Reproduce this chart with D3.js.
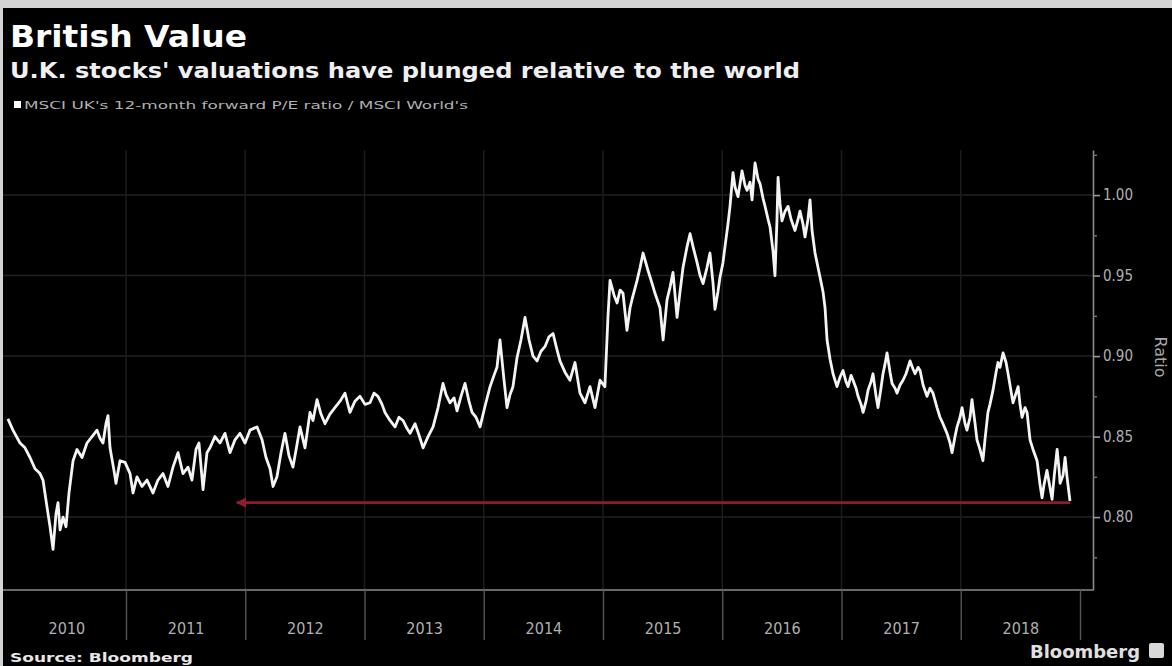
<!DOCTYPE html>
<html>
<head>
<meta charset="utf-8">
<script src="https://cdn.jsdelivr.net/npm/d3@7"></script>
<style>
  html, body { margin: 0; padding: 0; background: #000; }
  svg { display: block; }
</style>
</head>
<body>
<svg id="chart" width="1172" height="666"></svg>
<script>
// Time in decimal years, MSCI UK 12m forward P/E divided by MSCI World's
const years = [
  2010.010, 2010.052, 2010.111, 2010.153, 2010.195, 2010.237, 2010.279, 2010.304, 2010.338, 2010.363,
  2010.388, 2010.413, 2010.430, 2010.447, 2010.472, 2010.497, 2010.522, 2010.556, 2010.589, 2010.631,
  2010.673, 2010.715, 2010.757, 2010.782, 2010.807, 2010.832, 2010.849, 2010.866, 2010.899, 2010.916,
  2010.950, 2010.992, 2011.034, 2011.059, 2011.092, 2011.134, 2011.176, 2011.226, 2011.268, 2011.310,
  2011.352, 2011.394, 2011.436, 2011.478, 2011.520, 2011.553, 2011.587, 2011.612, 2011.646, 2011.679,
  2011.704, 2011.746, 2011.788, 2011.830, 2011.872, 2011.914, 2011.956, 2011.998, 2012.040, 2012.099,
  2012.141, 2012.174, 2012.208, 2012.233, 2012.266, 2012.300, 2012.333, 2012.367, 2012.400, 2012.434,
  2012.459, 2012.501, 2012.543, 2012.568, 2012.602, 2012.635, 2012.669, 2012.710, 2012.752, 2012.795,
  2012.836, 2012.878, 2012.920, 2012.962, 2013.004, 2013.046, 2013.080, 2013.113, 2013.147, 2013.172,
  2013.214, 2013.256, 2013.289, 2013.323, 2013.357, 2013.382, 2013.424, 2013.457, 2013.491, 2013.533,
  2013.575, 2013.617, 2013.658, 2013.684, 2013.717, 2013.751, 2013.776, 2013.809, 2013.843, 2013.876,
  2013.902, 2013.935, 2013.969, 2014.011, 2014.053, 2014.086, 2014.111, 2014.136, 2014.170, 2014.195,
  2014.220, 2014.245, 2014.279, 2014.312, 2014.346, 2014.380, 2014.413, 2014.447, 2014.480, 2014.514,
  2014.547, 2014.581, 2014.614, 2014.639, 2014.681, 2014.723, 2014.765, 2014.807, 2014.849, 2014.891,
  2014.933, 2014.975, 2015.016, 2015.042, 2015.059, 2015.092, 2015.118, 2015.143, 2015.168, 2015.201,
  2015.227, 2015.243, 2015.286, 2015.311, 2015.336, 2015.378, 2015.412, 2015.436, 2015.478, 2015.504,
  2015.537, 2015.563, 2015.587, 2015.621, 2015.646, 2015.671, 2015.705, 2015.730, 2015.755, 2015.789,
  2015.814, 2015.839, 2015.872, 2015.897, 2015.923, 2015.939, 2015.964, 2015.981, 2016.006, 2016.023,
  2016.048, 2016.065, 2016.090, 2016.107, 2016.132, 2016.166, 2016.191, 2016.208, 2016.233, 2016.250,
  2016.275, 2016.300, 2016.317, 2016.342, 2016.359, 2016.384, 2016.401, 2016.426, 2016.442, 2016.459,
  2016.468, 2016.484, 2016.501, 2016.527, 2016.552, 2016.577, 2016.610, 2016.636, 2016.652, 2016.677,
  2016.694, 2016.719, 2016.736, 2016.753, 2016.778, 2016.803, 2016.820, 2016.845, 2016.862, 2016.879,
  2016.904, 2016.929, 2016.962, 2016.988, 2017.013, 2017.038, 2017.055, 2017.080, 2017.097, 2017.122,
  2017.139, 2017.164, 2017.181, 2017.206, 2017.223, 2017.248, 2017.264, 2017.290, 2017.306, 2017.331,
  2017.348, 2017.365, 2017.382, 2017.407, 2017.424, 2017.449, 2017.466, 2017.491, 2017.516, 2017.541,
  2017.575, 2017.600, 2017.617, 2017.642, 2017.659, 2017.684, 2017.717, 2017.742, 2017.767, 2017.801,
  2017.826, 2017.851, 2017.885, 2017.910, 2017.927, 2017.952, 2017.969, 2017.994, 2018.011, 2018.036,
  2018.052, 2018.078, 2018.094, 2018.120, 2018.136, 2018.161, 2018.186, 2018.203, 2018.228, 2018.245,
  2018.271, 2018.296, 2018.312, 2018.329, 2018.355, 2018.380, 2018.397, 2018.422, 2018.438, 2018.464,
  2018.481, 2018.497, 2018.514, 2018.539, 2018.556, 2018.581, 2018.606, 2018.640, 2018.665, 2018.682,
  2018.698, 2018.723, 2018.749, 2018.766, 2018.783, 2018.808, 2018.824, 2018.833, 2018.858, 2018.875,
  2018.891, 2018.916
];
const ratios = [
  0.861, 0.854, 0.846, 0.843, 0.837, 0.830, 0.827, 0.823, 0.806, 0.794,
  0.780, 0.802, 0.809, 0.792, 0.800, 0.794, 0.815, 0.835, 0.842, 0.837,
  0.846, 0.850, 0.854, 0.849, 0.846, 0.858, 0.863, 0.843, 0.829, 0.821,
  0.835, 0.834, 0.827, 0.815, 0.825, 0.819, 0.823, 0.815, 0.823, 0.827,
  0.819, 0.831, 0.840, 0.827, 0.831, 0.823, 0.842, 0.846, 0.817, 0.840,
  0.843, 0.850, 0.846, 0.852, 0.840, 0.848, 0.852, 0.846, 0.854, 0.856,
  0.848, 0.837, 0.830, 0.819, 0.825, 0.840, 0.852, 0.838, 0.831, 0.845,
  0.856, 0.843, 0.865, 0.860, 0.873, 0.864, 0.858, 0.864, 0.868, 0.872,
  0.877, 0.865, 0.872, 0.875, 0.870, 0.871, 0.877, 0.875, 0.870, 0.865,
  0.860, 0.856, 0.862, 0.860, 0.855, 0.852, 0.858, 0.851, 0.843, 0.850,
  0.856, 0.868, 0.883, 0.876, 0.871, 0.874, 0.866, 0.875, 0.883, 0.872,
  0.865, 0.862, 0.856, 0.869, 0.881, 0.888, 0.893, 0.910, 0.885, 0.868,
  0.876, 0.881, 0.899, 0.910, 0.924, 0.910, 0.900, 0.897, 0.903, 0.906,
  0.912, 0.914, 0.904, 0.897, 0.890, 0.885, 0.896, 0.877, 0.871, 0.881,
  0.868, 0.885, 0.881, 0.925, 0.947, 0.938, 0.933, 0.941, 0.939, 0.916,
  0.930, 0.935, 0.947, 0.955, 0.964, 0.953, 0.945, 0.939, 0.930, 0.910,
  0.935, 0.943, 0.952, 0.924, 0.940, 0.955, 0.968, 0.976, 0.968, 0.958,
  0.950, 0.945, 0.955, 0.964, 0.945, 0.929, 0.940, 0.949, 0.958, 0.968,
  0.982, 0.993, 1.014, 1.005, 0.999, 1.015, 1.006, 1.003, 1.008, 0.997,
  1.020, 1.010, 1.007, 0.998, 0.993, 0.985, 0.980, 0.965, 0.950, 0.985,
  1.011, 0.995, 0.984, 0.990, 0.993, 0.985, 0.978, 0.985, 0.990, 0.982,
  0.974, 0.985, 0.997, 0.978, 0.964, 0.955, 0.949, 0.940, 0.930, 0.910,
  0.898, 0.889, 0.881, 0.887, 0.891, 0.884, 0.881, 0.888, 0.885, 0.880,
  0.875, 0.870, 0.865, 0.872, 0.879, 0.884, 0.889, 0.875, 0.868, 0.880,
  0.889, 0.895, 0.902, 0.890, 0.883, 0.880, 0.877, 0.882, 0.885, 0.889,
  0.897, 0.892, 0.889, 0.893, 0.891, 0.882, 0.875, 0.880, 0.877, 0.868,
  0.862, 0.858, 0.852, 0.846, 0.840, 0.850, 0.856, 0.862, 0.868, 0.858,
  0.854, 0.862, 0.873, 0.858, 0.848, 0.842, 0.835, 0.848, 0.865, 0.870,
  0.879, 0.890, 0.896, 0.893, 0.902, 0.896, 0.889, 0.878, 0.871, 0.877,
  0.881, 0.870, 0.862, 0.868, 0.865, 0.848, 0.842, 0.835, 0.820, 0.812,
  0.820, 0.829, 0.818, 0.811, 0.825, 0.842, 0.830, 0.821, 0.826, 0.837,
  0.825, 0.810
];

const yearLabels = ["2010", "2011", "2012", "2013", "2014", "2015", "2016", "2017", "2018"];
const yearBreaks = [2011, 2012, 2013, 2014, 2015, 2016, 2017, 2018, 2019];
const majorTicks = [0.80, 0.85, 0.90, 0.95, 1.00];
const minorTicks = [0.775, 0.825, 0.875, 0.925, 0.975, 1.025];

// Red "lowest level" marker, drawn back to late 2011
const markerLevel = [0.809];
const markerSpan = [2011.93, 2018.916];

const svg = d3.select("#chart");
const W = 1172, H = 666;
const axisX = 1093, plotTop = 150, plotBottom = 590;

svg.append("rect").attr("width", W).attr("height", H).attr("fill", "#000");

const x = d3.scaleLinear().domain([2010, 2019]).range([6.75, 1080]);
const y = d3.scaleLinear().domain([0.7547, 1.028]).range([plotBottom, plotTop]);

// grid
const grid = svg.append("g");
grid.selectAll("line.h").data(majorTicks).join("line")
  .attr("x1", 0).attr("x2", axisX)
  .attr("y1", d => y(d)).attr("y2", d => y(d))
  .attr("stroke", "#222").attr("stroke-width", 1.5);
grid.selectAll("line.v").data(yearBreaks.slice(0, -1)).join("line")
  .attr("x1", d => x(d)).attr("x2", d => x(d))
  .attr("y1", plotTop).attr("y2", plotBottom)
  .attr("stroke", "#1c1c1c").attr("stroke-width", 1.5);

// series line
const line = d3.line()
  .x((d, i) => x(years[i]))
  .y(d => y(d));
svg.append("path")
  .datum(ratios)
  .attr("d", line)
  .attr("fill", "none")
  .attr("stroke", "#f4f4f4")
  .attr("stroke-width", 2.8)
  .attr("stroke-linejoin", "round");

// marker arrow
const defs = svg.append("defs");
defs.append("marker")
  .attr("id", "head")
  .attr("viewBox", "0 0 10 10")
  .attr("refX", 9).attr("refY", 5)
  .attr("markerWidth", 4).attr("markerHeight", 4)
  .attr("orient", "auto-start-reverse")
  .append("path").attr("d", "M0,0 L10,5 L0,10 z").attr("fill", "#8e1b2e");
svg.append("line")
  .attr("x1", x(markerSpan[0])).attr("x2", x(markerSpan[1]))
  .attr("y1", y(markerLevel[0])).attr("y2", y(markerLevel[0]))
  .attr("stroke", "#8e1b2e").attr("stroke-width", 2.6)
  .attr("marker-start", "url(#head)");

// right axis
const yAxis = svg.append("g").attr("transform", `translate(${axisX},0)`);
yAxis.call(d3.axisRight(y).tickValues(majorTicks).tickFormat(d3.format(".2f")).tickSize(7).tickSizeOuter(0).tickPadding(3));
yAxis.select(".domain").attr("stroke", "#8a8a8a").attr("stroke-width", 1.6);
yAxis.selectAll(".tick line").attr("stroke", "#9a9a9a").attr("stroke-width", 1.6);
yAxis.selectAll(".tick text").attr("fill", "#b0b0b0")
  .style("font-family", "'DejaVu Sans Condensed', 'DejaVu Sans', sans-serif").style("font-size", "15px");
const yMinor = svg.append("g").attr("transform", `translate(${axisX},0)`);
yMinor.call(d3.axisRight(y).tickValues(minorTicks).tickFormat("").tickSize(4).tickSizeOuter(0));
yMinor.select(".domain").remove();
yMinor.selectAll(".tick line").attr("stroke", "#777").attr("stroke-width", 1.4);

svg.append("text")
  .attr("transform", `translate(1155, 357) rotate(90)`)
  .attr("text-anchor", "middle")
  .attr("fill", "#a8a8a8")
  .style("font-family", "'DejaVu Sans', sans-serif").style("font-size", "16px")
  .text("Ratio");

// bottom axis: baseline, year separators and labels
svg.append("line").attr("x1", 0).attr("x2", axisX).attr("y1", plotBottom).attr("y2", plotBottom)
  .attr("stroke", "#8a8a8a").attr("stroke-width", 1.6);
const xAxis = svg.append("g").attr("transform", `translate(0,${plotBottom})`);
xAxis.call(d3.axisBottom(x).tickValues(yearBreaks).tickFormat("").tickSize(50).tickSizeOuter(0));
xAxis.select(".domain").remove();
xAxis.selectAll(".tick line").attr("stroke", "#555").attr("stroke-width", 1.4);
const xLabels = svg.append("g").attr("transform", `translate(0,${plotBottom})`);
xLabels.call(d3.axisBottom(x).tickValues(yearLabels.map(d => +d + 0.5))
  .tickFormat((d, i) => yearLabels[i]).tickSize(0).tickPadding(33));
xLabels.select(".domain").remove();
xLabels.selectAll(".tick text").attr("fill", "#b0b0b0")
  .style("font-family", "'DejaVu Sans Condensed', 'DejaVu Sans', sans-serif").style("font-size", "16px");

// header
svg.append("text").attr("x", 10).attr("y", 47)
  .attr("fill", "#fff").attr("textLength", 237).attr("lengthAdjust", "spacingAndGlyphs")
  .style("font-family", "'DejaVu Sans', sans-serif").style("font-weight", "bold").style("font-size", "30px")
  .text("British Value");
svg.append("text").attr("x", 10).attr("y", 78)
  .attr("fill", "#f0f0f0").attr("textLength", 790).attr("lengthAdjust", "spacingAndGlyphs")
  .style("font-family", "'DejaVu Sans', sans-serif").style("font-weight", "bold").style("font-size", "21px")
  .text("U.K. stocks' valuations have plunged relative to the world");
svg.append("rect").attr("x", 14).attr("y", 101).attr("width", 7).attr("height", 7).attr("fill", "#fff");
svg.append("text").attr("x", 24).attr("y", 109)
  .attr("fill", "#b0b0b0").attr("textLength", 444).attr("lengthAdjust", "spacingAndGlyphs")
  .style("font-family", "'DejaVu Sans Condensed', 'DejaVu Sans', sans-serif").style("font-size", "11px")
  .text("MSCI UK's 12-month forward P/E ratio / MSCI World's");

// footer
svg.append("text").attr("x", 10).attr("y", 662)
  .attr("fill", "#e8e8e8").attr("textLength", 183).attr("lengthAdjust", "spacingAndGlyphs")
  .style("font-family", "'DejaVu Sans', sans-serif").style("font-weight", "bold").style("font-size", "13px")
  .text("Source: Bloomberg");
svg.append("text").attr("x", 1030).attr("y", 658)
  .attr("fill", "#e0e0e0").attr("textLength", 110).attr("lengthAdjust", "spacingAndGlyphs")
  .style("font-family", "'DejaVu Sans', sans-serif").style("font-weight", "bold").style("font-size", "18px")
  .text("Bloomberg");
svg.append("rect").attr("x", 1149).attr("y", 643).attr("width", 15).attr("height", 15).attr("rx", 2).attr("fill", "#d8d8d8");

// frame edges
svg.append("rect").attr("x", 0).attr("y", 0).attr("width", W).attr("height", 8).attr("fill", "#d4d4d4");
svg.append("rect").attr("x", 0).attr("y", 0).attr("width", 3).attr("height", H).attr("fill", "#d4d4d4");
</script>
</body>
</html>
